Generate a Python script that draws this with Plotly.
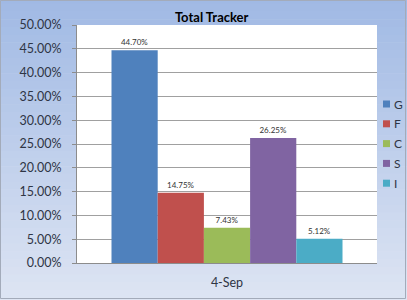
import plotly.graph_objects as go

categories = ["4-Sep"]
series_names = ["G", "F", "C", "S", "I"]
series_values = [0.4470, 0.1475, 0.0743, 0.2625, 0.0512]
series_colors = ["#4f81bd", "#c0504d", "#9bbb59", "#8064a2", "#4bacc6"]
y_ticks = [i * 0.05 for i in range(11)]

W, H = 407, 300
ML, MR, MT, MB = 77, 30, 25, 37
TXT = "#2f3545"

fig = go.Figure()
for name, val, col in zip(series_names, series_values, series_colors):
    fig.add_trace(go.Bar(
        x=categories, y=[val], name=name,
        marker=dict(color=col, line=dict(width=0)),
        text=[f"{val*100:.2f}%"], textposition="outside",
        textfont=dict(size=8, color="#333333", family="Lato, Liberation Sans"),
        cliponaxis=False, showlegend=False,
    ))

plot_h = H - MT - MB
plot_w = W - ML - MR

# background gradient built from thin strips
shapes = []
n = 40
top = (160, 185, 228)
bot = (222, 229, 243)
for i in range(n):
    t = i / (n - 1)
    c = tuple(int(round(top[k] + (bot[k] - top[k]) * t)) for k in range(3))
    shapes.append(dict(type="rect", xref="paper", yref="paper",
                       x0=-0.3, x1=1.2, y0=1.12 - (i + 1) * 1.3 / n, y1=1.12 - i * 1.3 / n + 0.002,
                       fillcolor=f"rgb{c}", line=dict(width=0), layer="below"))
shapes.append(dict(type="rect", xref="paper", yref="paper", x0=0, x1=1, y0=0, y1=1,
                   fillcolor="white", line=dict(width=0), layer="below"))
# outer chart border
shapes.append(dict(type="rect", xref="paper", yref="paper",
                   x0=-(ML - 0.5) / plot_w, x1=1 + (MR - 1.5) / plot_w,
                   y0=-(MB - 1.5) / plot_h, y1=1 + (MT - 0.5) / plot_h,
                   line=dict(color="#a3abba", width=1), fillcolor="rgba(0,0,0,0)"))

# legend drawn as swatches + labels, built from the series lists
annotations = []
leg_x = (383 - ML) / plot_w
for i, (name, col) in enumerate(zip(series_names, series_colors)):
    ypx = 104 + i * 19.8
    yp = (H - MB - ypx) / plot_h
    shapes.append(dict(type="rect", xref="paper", yref="paper",
                       xsizemode="pixel", ysizemode="pixel",
                       xanchor=leg_x, yanchor=yp, x0=0, x1=7, y0=-3.5, y1=3.5,
                       fillcolor=col, line=dict(width=0)))
    annotations.append(dict(text=name, xref="paper", yref="paper", x=leg_x, y=yp,
                            xanchor="left", yanchor="middle", xshift=9, showarrow=False,
                            font=dict(size=12, color=TXT, family="Lato, Liberation Sans")))

fig.update_layout(
    width=W, height=H,
    margin=dict(l=ML, r=MR, t=MT, b=MB, autoexpand=False),
    paper_bgcolor="#dde6f3",
    plot_bgcolor="rgba(0,0,0,0)",
    shapes=shapes, annotations=annotations,
    barmode="group", bargap=0.23, bargroupgap=0,
    title=dict(text="<b>Total Tracker</b>", x=0.52, xanchor="center", y=0.942, yanchor="middle",
               font=dict(size=13, color="#000000", family="Lato, Liberation Sans")),
    font=dict(family="Lato, Liberation Sans", color=TXT),
    showlegend=False,
)
fig.update_yaxes(range=[0, 0.5], tickvals=y_ticks, tickformat=".2%",
                 showgrid=True, gridcolor="#a0a0a0", gridwidth=1,
                 showline=True, linecolor="#8c8c8c", ticks="outside", ticklen=4, tickcolor="#8c8c8c",
                 ticklabelstandoff=8,
                 tickfont=dict(size=12.5, color=TXT), zeroline=False, fixedrange=True)
fig.update_xaxes(showline=True, linecolor="#8c8c8c", ticks="", ticklabelstandoff=8,
                 tickfont=dict(size=12.5, color=TXT))

fig.write_html("out.html")
